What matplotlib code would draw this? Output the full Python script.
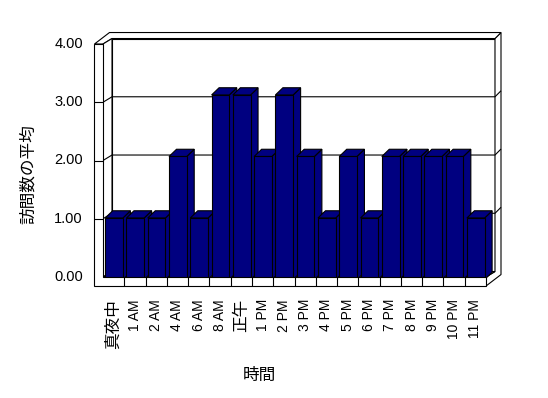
"""3D-style column chart: average visits per hour (Excel look)."""
import matplotlib
matplotlib.use("Agg")
import matplotlib.pyplot as plt
from matplotlib.patches import Polygon

hours = ["真夜中", "1 AM", "2 AM", "4 AM", "6 AM", "8 AM", "正午", "1 PM", "2 PM",
         "3 PM", "4 PM", "5 PM", "6 PM", "7 PM", "8 PM", "9 PM", "10 PM", "11 PM"]
visits = [1, 1, 1, 2, 1, 3, 3, 2, 3, 2, 1, 2, 1, 2, 2, 2, 2, 1]
y_ticks = [0, 1, 2, 3, 4]
y_title = "訪問数の平均"
x_title = "時間"

# oblique projection, all in data units (category, value)
DEPTH = (0.423, 0.094)       # front plane -> back wall
BAR_DEPTH = (0.352, 0.124)
BAR_BASE = -0.043
BAR_STRETCH = 1.056          # bars sit a bit in front of the front plane
BAR_OFF, BAR_W = 0.103, 0.832
LEFT_T = 0.40                # left wall thickness
BACK_T = (0.282, 0.103)      # back wall thickness
FLOOR_T = 0.155              # floor slab thickness

NAVY = "#000080"
LW = 0.8
LATIN_CJK = ["Liberation Sans", "Noto Sans CJK JP"]

n = len(hours)
vmax = y_ticks[-1]

fig = plt.figure(figsize=(5.48, 3.98), dpi=100)
ax = fig.add_axes([103 / 548, 121 / 398, 383 / 548, 233 / 398])
ax.set_xlim(0, n)
ax.set_ylim(0, vmax)
ax.axis("off")


def poly(pts, fc="white", z=1):
    ax.add_patch(Polygon(pts, closed=True, facecolor=fc, edgecolor="black",
                         linewidth=LW, joinstyle="miter", clip_on=False, zorder=z))


def line(xs, ys, z=2):
    ax.plot(xs, ys, color="black", linewidth=LW, clip_on=False, zorder=z,
            solid_capstyle="butt")


dx, dy = DEPTH
bx0, bx1 = dx, n + dx            # back wall left/right
by0, by1 = dy, vmax + dy         # back wall bottom/top
tx, ty = BACK_T

# walls
poly([(bx0, by0), (bx1, by0), (bx1, by1), (bx0, by1)])
poly([(bx1, by1), (bx1 + tx, by1 + ty), (bx1 + tx, by0 - FLOOR_T + ty),
      (n, -FLOOR_T), (n, 0), (bx1, by0)])
poly([(-LEFT_T, vmax), (0, vmax), (bx0, by1), (bx1, by1),
      (bx1 + tx, by1 + ty), (bx0 - LEFT_T + tx, by1 + ty)])
poly([(0, vmax), (bx0, by1), (bx0, by0), (0, 0)])
poly([(0, 0), (n, 0), (bx1, by0), (bx0, by0)])

# gridlines on left and back walls
for v in y_ticks[1:-1]:
    line([0, bx0, bx1, bx1 + tx], [v, v + dy, v + dy, v + dy + ty])

# bars, left to right so each front hides the previous side
bdx, bdy = BAR_DEPTH
for i, v in enumerate(visits):
    l = i + BAR_OFF
    r = l + BAR_W
    b = BAR_BASE
    t = BAR_BASE + v * BAR_STRETCH
    poly([(r, b), (r + bdx, b + bdy), (r + bdx, t + bdy), (r, t)], NAVY, 3)
    poly([(l, t), (r, t), (r + bdx, t + bdy), (l + bdx, t + bdy)], NAVY, 3)
    poly([(l, b), (r, b), (r, t), (l, t)], NAVY, 3)

# front faces of left wall and floor
poly([(-LEFT_T, vmax), (0, vmax), (0, 0), (n, 0), (n, -FLOOR_T), (-LEFT_T, -FLOOR_T)], z=4)
for v in y_ticks[1:-1]:
    line([-LEFT_T, 0], [v, v], z=5)
for i in range(1, n):
    line([i, i], [0, -FLOOR_T], z=5)

# value labels
for v in y_ticks:
    ax.text(-0.94, v, f"{v:.2f}", ha="right", va="center", fontsize=10.5,
            family=LATIN_CJK)

# category labels
for i, h in enumerate(hours):
    size = 10 if h.isascii() else 12
    ax.text(i + 0.5, -0.378, h, rotation=90, ha="center", va="top",
            fontsize=size, family=LATIN_CJK)

ax.text(7.33, -1.69, x_title, ha="center", va="center", fontsize=12,
        family=["Noto Sans CJK JP"])
ax.text(-3.52, 1.77, y_title, ha="center", va="center", rotation=90,
        fontsize=12, family=["Noto Sans CJK JP"])

fig.savefig("out.png", dpi=100)
